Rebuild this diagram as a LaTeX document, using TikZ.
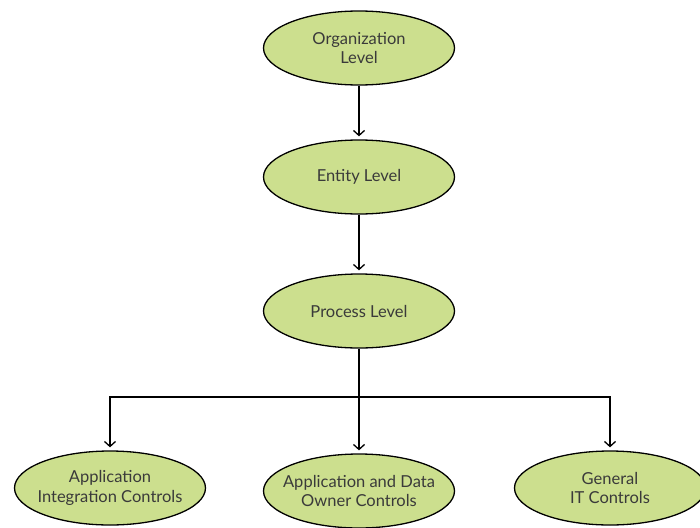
\documentclass[tikz,border=0pt]{standalone}
\usepackage{fontspec}
\setmainfont{Lato}
\usetikzlibrary{shapes.geometric,arrows.meta}
\definecolor{ellfill}{HTML}{CCDF8E}
\definecolor{txt}{HTML}{3A3A3A}
\begin{document}
\begin{tikzpicture}[x=1pt,y=-1pt,
  lvl/.style={ellipse,draw=black,line width=1.3pt,fill=ellfill,minimum width=191pt,minimum height=74pt,inner xsep=-30pt,inner ysep=-5pt,align=center,text=txt,font=\fontsize{16.5}{19.5}\selectfont},
  conn/.style={line width=1.3pt,-{Straight Barb[length=5pt,width=11pt,line width=1.3pt]},shorten >=3pt}]
\useasboundingbox (0,0) rectangle (700,527);
\node[lvl] (org) at (359,48) {Organization\\Level};
\node[lvl] (ent) at (359,177) {Entity Level};
\node[lvl] (proc) at (359,311) {Process Level};
\node[lvl] (aic) at (110,488) {Application\\Integration Controls};
\node[lvl] (ado) at (359,491) {Application and Data\\Owner Controls};
\node[lvl] (gen) at (610,488) {General\\IT Controls};
\coordinate (j) at (359,397);
\draw[conn] (org) -- (ent);
\draw[conn] (ent) -- (proc);
\draw[line width=1.3pt] (proc) -- (j);
\draw[conn] (j) -| (aic.north);
\draw[conn] (j) -- (ado.north);
\draw[conn] (j) -| (gen.north);
\end{tikzpicture}
\end{document}
